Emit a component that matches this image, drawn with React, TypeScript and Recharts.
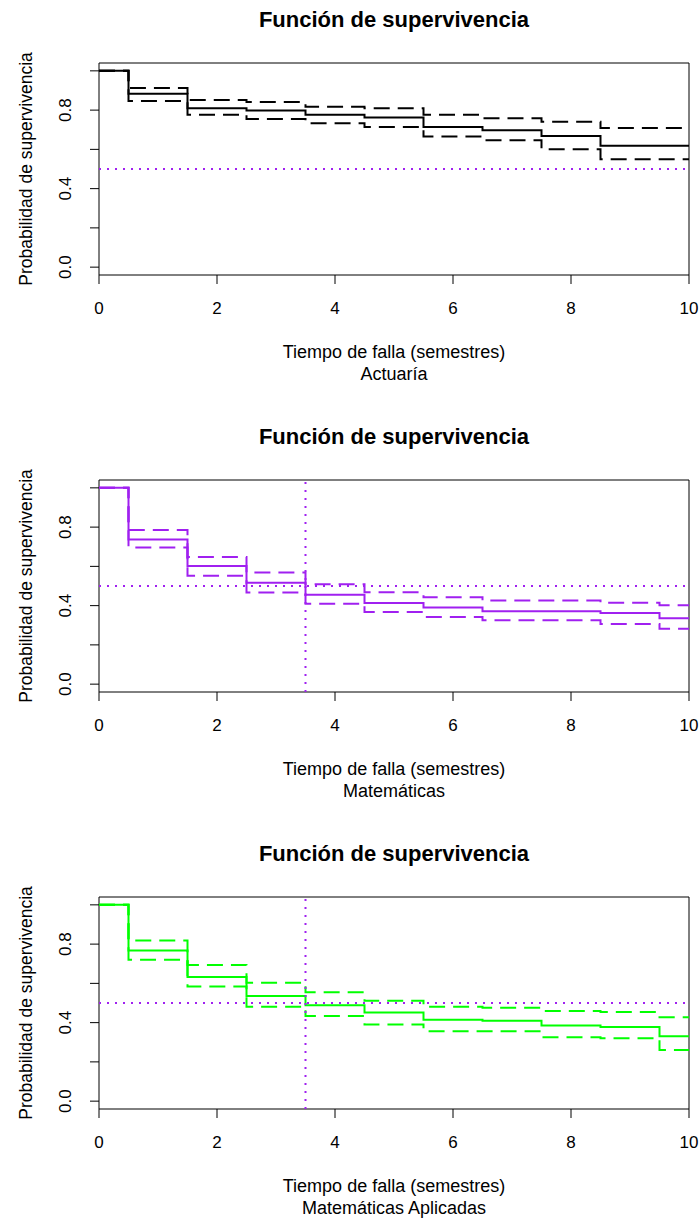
import React from 'react';
import { LineChart, Line, XAxis, YAxis, ReferenceLine, ReferenceArea } from 'recharts';

// tiempos de falla (semestres) y estimaciones de supervivencia con IC
const tiemposAct = [0, 0.5, 1.5, 2.5, 3.5, 4.5, 5.5, 6.5, 7.5, 8.5, 10];
const survAct = [1, 0.883, 0.81, 0.798, 0.776, 0.762, 0.714, 0.698, 0.668, 0.618, 0.618];
const supAct = [1, 0.913, 0.851, 0.841, 0.817, 0.81, 0.776, 0.758, 0.741, 0.709, 0.709];
const infAct = [1, 0.847, 0.776, 0.755, 0.733, 0.714, 0.666, 0.646, 0.601, 0.55, 0.55];

const tiemposMat = [0, 0.5, 1.5, 2.5, 3.5, 4.5, 5.5, 6.5, 8.5, 9.5, 10];
const survMat = [1, 0.737, 0.602, 0.516, 0.456, 0.413, 0.39, 0.372, 0.362, 0.336, 0.336];
const supMat = [1, 0.785, 0.648, 0.569, 0.509, 0.468, 0.443, 0.426, 0.415, 0.402, 0.402];
const infMat = [1, 0.696, 0.552, 0.467, 0.41, 0.367, 0.342, 0.325, 0.306, 0.282, 0.282];

const tiemposApl = [0, 0.5, 1.5, 2.5, 3.5, 4.5, 5.5, 6.5, 7.5, 8.5, 9.5, 10];
const survApl = [1, 0.768, 0.632, 0.536, 0.488, 0.452, 0.415, 0.41, 0.385, 0.378, 0.331, 0.331];
const supApl = [1, 0.818, 0.694, 0.603, 0.555, 0.512, 0.481, 0.476, 0.459, 0.454, 0.428, 0.428];
const infApl = [1, 0.72, 0.584, 0.481, 0.434, 0.391, 0.356, 0.356, 0.325, 0.32, 0.261, 0.261];

const xTicks = [0, 2, 4, 6, 8, 10];
const yTicks = [0, 0.2, 0.4, 0.6, 0.8, 1];
const yLabeled = [0, 0.4, 0.8];

const FONT = '"Liberation Sans", Arial, sans-serif';
const PURPLE = '#A020F0';

interface PanelProps {
  tiempos: number[];
  surv: number[];
  sup: number[];
  inf: number[];
  color: string;
  subtitulo: string;
  mediana?: number;
  gap: number;
}

const YTick = (props: any) => {
  const { x, y, payload } = props;
  const v = payload.value;
  if (!yLabeled.some((l) => Math.abs(l - v) < 1e-6)) return <text />;
  const bx = x - 19;
  return (
    <text
      x={bx}
      y={y}
      transform={`rotate(-90, ${bx}, ${y})`}
      textAnchor="middle"
      fontSize={17}
      fill="#000"
      fontFamily={FONT}
    >
      {v.toFixed(1)}
    </text>
  );
};

const Panel: React.FC<PanelProps> = ({ tiempos, surv, sup, inf, color, subtitulo, mediana, gap }) => {
  const data = tiempos.map((t, i) => ({ t, s: surv[i], u: sup[i], l: inf[i] }));
  return (
    <div style={{ position: 'relative', width: 700, height: 388, marginBottom: gap }}>
      <LineChart width={700} height={388} data={data} margin={{ top: 63, right: 11, bottom: 73, left: 59 }} style={{ fontFamily: FONT }}>
        <XAxis
          dataKey="t"
          type="number"
          domain={[0, 10]}
          ticks={xTicks}
          interval={0}
          axisLine={false}
          tickLine={{ stroke: '#000' }}
          tickSize={9}
          tickMargin={18}
          height={40}
          tick={{ fontSize: 17, fill: '#000', fontFamily: FONT }}
          allowDataOverflow
        />
        <YAxis
          type="number"
          domain={[-0.04, 1.04]}
          ticks={yTicks}
          interval={0}
          axisLine={false}
          tickLine={{ stroke: '#000' }}
          tickSize={9}
          tickMargin={0}
          width={40}
          tick={<YTick />}
          allowDataOverflow
        />
        <ReferenceArea x1={0} x2={10} y1={-0.04} y2={1.04} fill="none" fillOpacity={0} stroke="#000" strokeWidth={1} />
        <Line dataKey="u" type="stepAfter" stroke={color} strokeWidth={2} strokeDasharray="16 8" dot={false} isAnimationActive={false} />
        <Line dataKey="l" type="stepAfter" stroke={color} strokeWidth={2} strokeDasharray="16 8" dot={false} isAnimationActive={false} />
        <Line dataKey="s" type="stepAfter" stroke={color} strokeWidth={2} dot={false} isAnimationActive={false} />
        <ReferenceLine y={0.5} stroke={PURPLE} strokeWidth={2} strokeDasharray="2 6" />
        {mediana !== undefined && <ReferenceLine x={mediana} stroke={PURPLE} strokeWidth={2} strokeDasharray="2 6" />}
      </LineChart>
      <svg width={700} height={388} style={{ position: 'absolute', left: 0, top: 0, pointerEvents: 'none' }} fontFamily={FONT}>
        <text x={394} y={27} textAnchor="middle" fontSize={22} fontWeight="bold" fill="#000">
          Función de supervivencia
        </text>
        <text x={394} y={358} textAnchor="middle" fontSize={18} fill="#000">
          Tiempo de falla (semestres)
        </text>
        <text x={394} y={380} textAnchor="middle" fontSize={18} fill="#000">
          {subtitulo}
        </text>
        <text x={32} y={169} transform="rotate(-90, 32, 169)" textAnchor="middle" fontSize={17.5} fill="#000">
          Probabilidad de supervivencia
        </text>
      </svg>
    </div>
  );
};

export default function App() {
  return (
    <div style={{ position: 'absolute', left: 0, top: 0, width: 700, background: '#fff' }}>
      <Panel tiempos={tiemposAct} surv={survAct} sup={supAct} inf={infAct} color="#000000" subtitulo="Actuaría" gap={29} />
      <Panel tiempos={tiemposMat} surv={survMat} sup={supMat} inf={infMat} color={PURPLE} subtitulo="Matemáticas" mediana={3.5} gap={29} />
      <Panel tiempos={tiemposApl} surv={survApl} sup={supApl} inf={infApl} color="#00FF00" subtitulo="Matemáticas Aplicadas" mediana={3.5} gap={0} />
    </div>
  );
}
